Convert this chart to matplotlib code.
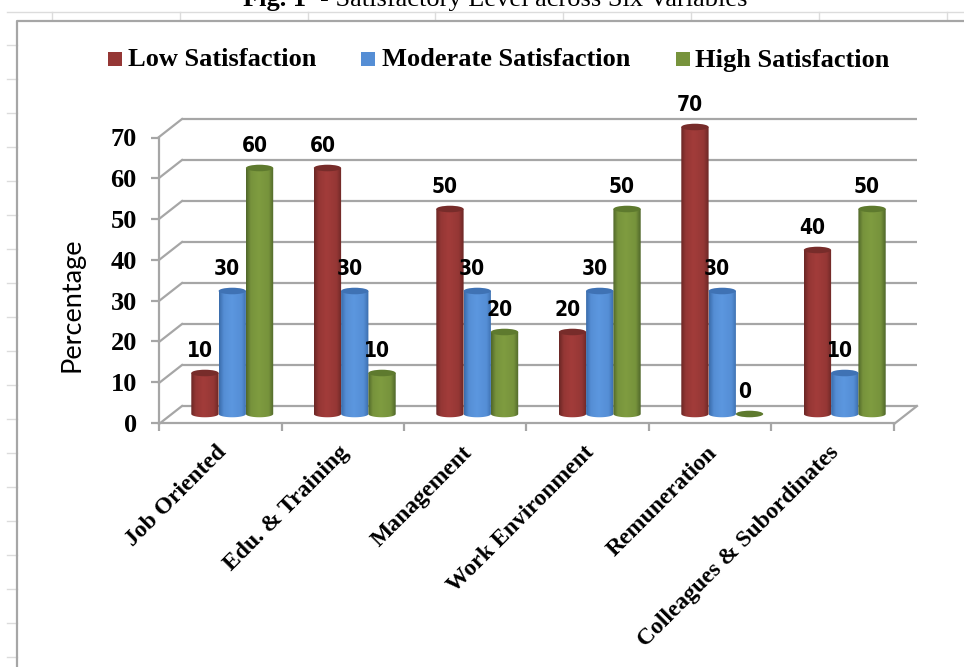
import numpy as np
import matplotlib
matplotlib.use("Agg")
import matplotlib.pyplot as plt
from matplotlib.colors import LinearSegmentedColormap
from matplotlib.patches import Ellipse, PathPatch, Rectangle
from matplotlib.path import Path

SERIF = ["Liberation Serif", "DejaVu Serif"]

categories = ["Job Oriented", "Edu. & Training", "Management",
              "Work Environment", "Remuneration", "Colleagues & Subordinates"]
series_names = ["Low Satisfaction", "Moderate Satisfaction", "High Satisfaction"]
low = [10, 60, 50, 20, 70, 40]
moderate = [30, 30, 30, 30, 30, 10]
high = [60, 10, 20, 50, 0, 50]
y_ticks = [0, 10, 20, 30, 40, 50, 60, 70]

W, H = 964, 667
GREY = "#a6a6a6"
# edge, body, highlight, top cap
PALETTE = [
    ("#6b2725", "#953735", "#a23c3a", "#772c2a"),
    ("#3a6cab", "#558ed5", "#5c97df", "#3f72b4"),
    ("#50672a", "#77933c", "#7f9c40", "#5e7a2e"),
]


def axes_px(left, right, top, bottom, **kw):
    """Axes placed with pixel edges, measured from the top left corner."""
    return fig.add_axes([left / W, 1 - bottom / H, (right - left) / W,
                         (bottom - top) / H], **kw)


def cylinder(ax, x, width, value, colors):
    edge, body, light, cap = colors
    cap_h = 1.6
    if value > 0:
        t = np.linspace(np.pi, 2 * np.pi, 30)
        xs = x + width / 2 * np.cos(t)
        ys = cap_h / 2 * np.sin(t)
        verts = np.vstack([np.column_stack([xs, ys]),
                           [x + width / 2, value], [x - width / 2, value],
                           [xs[0], ys[0]]])
        outline = PathPatch(Path(verts), fc="none", ec="none")
        ax.add_patch(outline)
        cmap = LinearSegmentedColormap.from_list(
            "cyl", [(0, edge), (0.17, body), (0.45, light), (0.82, body), (1, edge)])
        grad = np.linspace(0, 1, 64).reshape(1, -1)
        im = ax.imshow(grad, extent=[x - width / 2, x + width / 2,
                                     -cap_h, value],
                       aspect="auto", cmap=cmap, zorder=2)
        im.set_clip_path(outline)
    ax.add_patch(Ellipse((x, value), width, cap_h, fc=cap, ec="none", zorder=3))


fig = plt.figure(figsize=(W / 100, H / 100), dpi=100, facecolor="white")

# Sheet lines, chart frame, title and legend sit on a full pixel canvas
bg = axes_px(0, W, 0, H, zorder=0)
bg.set_xlim(0, W)
bg.set_ylim(H, 0)
bg.axis("off")
bg.plot([7, W], [11.5, 11.5], color="#dcdcdc", lw=1)
for x in np.arange(52, W, 127.8):
    bg.plot([x, x], [11.5, 20], color="#dcdcdc", lw=1)
for y in np.arange(45, H, 34):
    bg.plot([7, 17], [y, y], color="#dcdcdc", lw=1)
bg.plot([17, 17, W], [H, 21, 21], color=GREY, lw=1.6)

bg.text(243, 6, "Fig. 1", family=SERIF, weight="bold", fontsize=19,
        va="baseline", ha="left")
bg.text(320, 6, "- Satisfactory Level across Six Variables", family=SERIF,
        fontsize=19, va="baseline", ha="left")

for name, sq_x, txt_x, colors in zip(series_names, [108, 361, 676],
                                     [128, 382, 695], PALETTE):
    bg.add_patch(Rectangle((sq_x, 52), 14, 14, fc=colors[1], ec="none"))
    bg.text(txt_x, 66.5, name, family=SERIF, weight="bold", fontsize=19,
            va="baseline", ha="left")

# Back wall: gridlines, plus the side and floor connectors to the front plane
wall = axes_px(182, 917, 119, 406, zorder=1)
wall.set_xlim(0, 6)
wall.set_ylim(0, 70)
wall.axis("off")
dx = 23 / 122.5
dy = 18 / 4.1
for v in y_ticks:
    wall.plot([0, 6], [v, v], color=GREY, lw=1.6, clip_on=False,
              solid_capstyle="butt")
    wall.plot([-dx, 0], [v - dy, v], color=GREY, lw=1.6, clip_on=False)
wall.plot([6 - dx, 6], [-dy, 0], color=GREY, lw=1.6, clip_on=False)

# Front plane: axis lines, ticks and their labels
front = axes_px(159, 894, 137.5, 423, zorder=2)
front.patch.set_alpha(0)
front.set_xlim(0, 6)
front.set_ylim(0, 70)
for side in ["top", "right"]:
    front.spines[side].set_visible(False)
for side in ["left", "bottom"]:
    front.spines[side].set_color(GREY)
    front.spines[side].set_linewidth(1.6)
front.set_yticks(y_ticks)
front.set_yticklabels([str(v) for v in y_ticks], family=SERIF, weight="bold",
                      fontsize=19)
front.set_xticks(range(7))
front.set_xticklabels([])
front.tick_params(axis="both", color=GREY, width=1.6, length=6)
front.tick_params(axis="y", pad=10)
front.set_ylabel("Percentage", family=["Lato", "DejaVu Sans"], fontsize=19.5)
front.yaxis.set_label_coords(-0.101, 0.413)
for i, name in enumerate(categories):
    front.annotate(name, xy=(i + 0.5, 0), xytext=(2.5, -19),
                   textcoords="offset points", family=SERIF, weight="bold",
                   fontsize=17, rotation=45, rotation_mode="anchor",
                   ha="right", va="center")

# Cylinders stand on the floor between the front plane and the back wall
bars = axes_px(171, 906, 118.8, 422.2, zorder=3)
bars.patch.set_alpha(0)
bars.axis("off")
width = 27.3 / 122.5
for k, (values, colors) in enumerate(zip([low, moderate, high], PALETTE)):
    for i, v in enumerate(values):
        x = i + 0.5 + (k - 1) * width
        cylinder(bars, x, width, v, colors)
        bars.annotate(str(v), xy=(x, v), xytext=(-3.6, 16),
                      textcoords="offset points", family="DejaVu Sans",
                      stretch="condensed", weight="bold", fontsize=15,
                      ha="center", va="center", annotation_clip=False, zorder=5)
bars.set_xlim(0, 6)
bars.set_ylim(-2, 72)

fig.savefig("out.png", dpi=100)
